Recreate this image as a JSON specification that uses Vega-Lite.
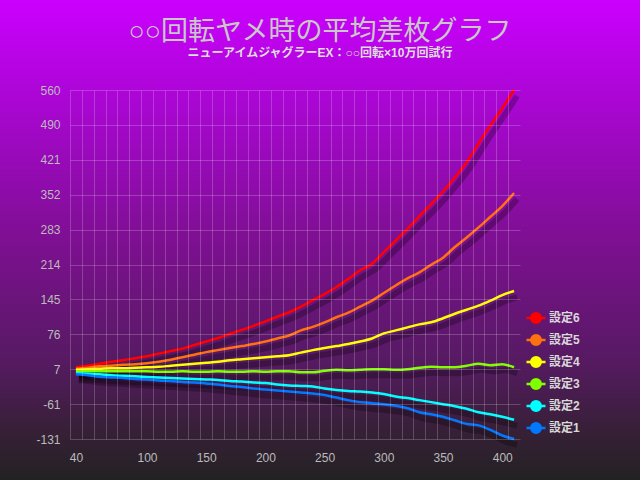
{
  "$schema": "https://vega.github.io/schema/vega-lite/v6.json",
  "width": 450,
  "height": 349,
  "autosize": {"type": "none"},
  "padding": {"left": 70, "top": 90, "right": 120, "bottom": 41},
  "background": "#222222",
  "config": {
    "view": {"stroke": null},
    "axis": {"labelFont": "Liberation Sans", "labelFontSize": 12, "labelColor": "#bbbbbb"}
  },
  "title": {
    "text": "○○回転ヤメ時の平均差枚グラフ",
    "subtitle": "ニューアイムジャグラーEX：○○回転×10万回試行",
    "anchor": "middle",
    "frame": "group",
    "dx": 25,
    "offset": -62,
    "font": "Liberation Sans, Noto Sans CJK JP",
    "fontSize": 27,
    "fontWeight": "normal",
    "color": "#c8c8c8",
    "subtitleFont": "Liberation Sans, Noto Sans CJK JP",
    "subtitleFontSize": 12,
    "subtitleFontWeight": "bold",
    "subtitleColor": "#dddddd",
    "subtitlePadding": 2,
    "zindex": 1
  },
  "data": {
    "values": [
      {"game": 40, "設定6": 11, "設定5": 8, "設定4": 6, "設定3": 3, "設定2": -1, "設定1": -3},
      {"game": 50, "設定6": 14, "設定5": 10, "設定4": 7, "設定3": 3, "設定2": -2, "設定1": -5},
      {"game": 60, "設定6": 18, "設定5": 13, "設定4": 8, "設定3": 3, "設定2": -3, "設定1": -8},
      {"game": 70, "設定6": 22, "設定5": 14, "設定4": 9, "設定3": 3, "設定2": -5, "設定1": -9},
      {"game": 80, "設定6": 25, "設定5": 16, "設定4": 9, "設定3": 3, "設定2": -6, "設定1": -10},
      {"game": 90, "設定6": 29, "設定5": 17, "設定4": 10, "設定3": 3, "設定2": -7, "設定1": -12},
      {"game": 100, "設定6": 33, "設定5": 19, "設定4": 11, "設定3": 3, "設定2": -8, "設定1": -13},
      {"game": 110, "設定6": 38, "設定5": 22, "設定4": 12, "設定3": 2, "設定2": -9, "設定1": -15},
      {"game": 120, "設定6": 43, "設定5": 26, "設定4": 14, "設定3": 2, "設定2": -10, "設定1": -16},
      {"game": 130, "設定6": 48, "設定5": 31, "設定4": 16, "設定3": 3, "設定2": -11, "設定1": -18},
      {"game": 140, "設定6": 55, "設定5": 36, "設定4": 18, "設定3": 2, "設定2": -12, "設定1": -19},
      {"game": 150, "設定6": 62, "設定5": 41, "設定4": 20, "設定3": 2, "設定2": -13, "設定1": -21},
      {"game": 160, "設定6": 69, "設定5": 45, "設定4": 22, "設定3": 3, "設定2": -14, "設定1": -23},
      {"game": 170, "設定6": 77, "設定5": 49, "設定4": 25, "設定3": 2, "設定2": -16, "設定1": -26},
      {"game": 180, "設定6": 85, "設定5": 53, "設定4": 27, "設定3": 2, "設定2": -17, "設定1": -28},
      {"game": 190, "設定6": 93, "設定5": 57, "設定4": 29, "設定3": 3, "設定2": -19, "設定1": -31},
      {"game": 200, "設定6": 102, "設定5": 62, "設定4": 31, "設定3": 2, "設定2": -20, "設定1": -33},
      {"game": 210, "設定6": 111, "設定5": 68, "設定4": 33, "設定3": 3, "設定2": -23, "設定1": -35},
      {"game": 220, "設定6": 120, "設定5": 74, "設定4": 35, "設定3": 3, "設定2": -25, "設定1": -37},
      {"game": 230, "設定6": 131, "設定5": 84, "設定4": 40, "設定3": 1, "設定2": -26, "設定1": -39},
      {"game": 240, "設定6": 144, "設定5": 91, "設定4": 45, "設定3": 1, "設定2": -27, "設定1": -41},
      {"game": 250, "設定6": 156, "設定5": 100, "設定4": 49, "設定3": 4, "設定2": -31, "設定1": -44},
      {"game": 260, "設定6": 170, "設定5": 110, "設定4": 53, "設定3": 6, "設定2": -34, "設定1": -49},
      {"game": 270, "設定6": 186, "設定5": 119, "設定4": 57, "設定3": 5, "設定2": -36, "設定1": -54},
      {"game": 280, "設定6": 203, "設定5": 131, "設定4": 62, "設定3": 6, "設定2": -37, "設定1": -58},
      {"game": 290, "設定6": 216, "設定5": 143, "設定4": 68, "設定3": 7, "設定2": -39, "設定1": -60},
      {"game": 300, "設定6": 239, "設定5": 158, "設定4": 78, "設定3": 7, "設定2": -42, "設定1": -62},
      {"game": 310, "設定6": 262, "設定5": 173, "設定4": 84, "設定3": 6, "設定2": -47, "設定1": -65},
      {"game": 320, "設定6": 285, "設定5": 187, "設定4": 90, "設定3": 7, "設定2": -50, "設定1": -70},
      {"game": 330, "設定6": 310, "設定5": 199, "設定4": 96, "設定3": 10, "設定2": -54, "設定1": -78},
      {"game": 340, "設定6": 334, "設定5": 214, "設定4": 100, "設定3": 12, "設定2": -58, "設定1": -82},
      {"game": 350, "設定6": 359, "設定5": 228, "設定4": 108, "設定3": 11, "設定2": -62, "設定1": -87},
      {"game": 360, "設定6": 387, "設定5": 249, "設定4": 117, "設定3": 11, "設定2": -66, "設定1": -94},
      {"game": 370, "設定6": 417, "設定5": 268, "設定4": 125, "設定3": 14, "設定2": -71, "設定1": -101},
      {"game": 380, "設定6": 454, "設定5": 288, "設定4": 133, "設定3": 18, "設定2": -78, "設定1": -104},
      {"game": 390, "設定6": 490, "設定5": 309, "設定4": 143, "設定3": 15, "設定2": -82, "設定1": -113},
      {"game": 400, "設定6": 524, "設定5": 330, "設定4": 154, "設定3": 17, "設定2": -87, "設定1": -124},
      {"game": 410, "設定6": 560, "設定5": 356, "設定4": 162, "設定3": 11, "設定2": -93, "設定1": -131}
    ]
  },
  "transform": [
    {"fold": ["設定6", "設定5", "設定4", "設定3", "設定2", "設定1"], "as": ["setting", "diff"]}
  ],
  "layer": [
    {
      "data": {"values": [{}]},
      "transform": [],
      "mark": {
        "type": "rect",
        "fill": {
          "gradient": "linear",
          "x1": 0, "y1": 0, "x2": 0, "y2": 1,
          "stops": [
            {"offset": 0, "color": "#cc00ff"},
            {"offset": 0.2, "color": "#ac06d6"},
            {"offset": 0.5, "color": "#7e0f92"},
            {"offset": 0.75, "color": "#561a62"},
            {"offset": 0.9, "color": "#362036"},
            {"offset": 1, "color": "#222222"}
          ]
        }
      },
      "encoding": {
        "x": {"datum": -26, "type": "quantitative", "scale": {"domain": [35, 415], "nice": false, "zero": false}},
        "x2": {"datum": 522},
        "y": {"datum": 742, "type": "quantitative", "scale": {"domain": [-131, 560], "nice": false, "zero": false}},
        "y2": {"datum": -215}
      }
    },
    {
      "mark": {"type": "line", "color": "#000000", "opacity": 0.27, "strokeWidth": 6, "xOffset": 3, "yOffset": 6, "interpolate": "monotone"},
      "encoding": {
        "x": {"field": "game", "type": "quantitative", "scale": {"domain": [35, 415], "nice": false, "zero": false}},
        "y": {"field": "diff", "type": "quantitative", "scale": {"domain": [-131, 560], "nice": false, "zero": false}},
        "detail": {"field": "setting"}
      }
    },
    {
      "mark": {"type": "line", "strokeWidth": 2.5, "interpolate": "monotone"},
      "encoding": {
        "x": {
          "field": "game",
          "type": "quantitative",
          "scale": {"domain": [35, 415], "nice": false, "zero": false},
          "axis": {
            "title": null,
            "values": [35, 40, 45, 55, 65, 75, 85, 95, 100, 105, 115, 125, 135, 145, 150, 155, 165, 175, 185, 195, 200, 205, 215, 225, 235, 245, 250, 255, 265, 275, 285, 295, 300, 305, 315, 325, 335, 345, 350, 355, 365, 375, 385, 395, 400, 405],
            "tickCount": 200,
            "labelExpr": "datum.value == 40 || datum.value % 50 == 0 ? datum.label : ''",
            "labelOverlap": false,
            "labelFlush": false,
            "labelPadding": 13,
            "ticks": false,
            "domain": false,
            "grid": true,
            "gridColor": "#ffffff",
            "gridOpacity": {"condition": {"test": "datum.value % 10 == 5", "value": 0.2}, "value": 0},
            "zindex": 1
          }
        },
        "y": {
          "field": "diff",
          "type": "quantitative",
          "scale": {"domain": [-131, 560], "nice": false, "zero": false},
          "axis": {
            "title": null,
            "values": [-131, -61.9, 7.2, 76.3, 145.4, 214.5, 283.6, 352.7, 421.8, 490.9, 560],
            "tickCount": 50,
            "labelExpr": "datum.value < 0 ? ceil(datum.value) : floor(datum.value)",
            "labelOverlap": false,
            "labelPadding": 10,
            "ticks": false,
            "domain": false,
            "grid": true,
            "gridColor": "#ffffff",
            "gridOpacity": 0.2,
            "zindex": 1
          }
        },
        "color": {
          "field": "setting",
          "type": "nominal",
          "scale": {
            "domain": ["設定6", "設定5", "設定4", "設定3", "設定2", "設定1"],
            "range": ["#ff0000", "#ff7010", "#ffff00", "#80ff00", "#00ffff", "#0078ff"]
          },
          "legend": {
            "title": null,
            "orient": "none",
            "legendX": 455,
            "legendY": 217,
            "padding": 0,
            "rowPadding": 1,
            "symbolType": "M-1,0H1M-0.5,0A0.5,0.5,0,1,1,0.5,0A0.5,0.5,0,1,1,-0.5,0Z",
            "symbolSize": 361,
            "symbolStrokeWidth": 2.5,
            "labelFont": "Liberation Sans, Noto Sans CJK JP",
            "labelFontSize": 12,
            "labelFontWeight": "bold",
            "labelColor": "#d8d8d8",
            "labelOffset": 2,
            "zindex": 1,
            "encode": {
              "symbols": {
                "update": {
                  "fill": {"scale": "color", "field": "value"},
                  "stroke": {"scale": "color", "field": "value"},
                  "opacity": {"value": 1}
                }
              }
            }
          }
        }
      }
    }
  ]
}
